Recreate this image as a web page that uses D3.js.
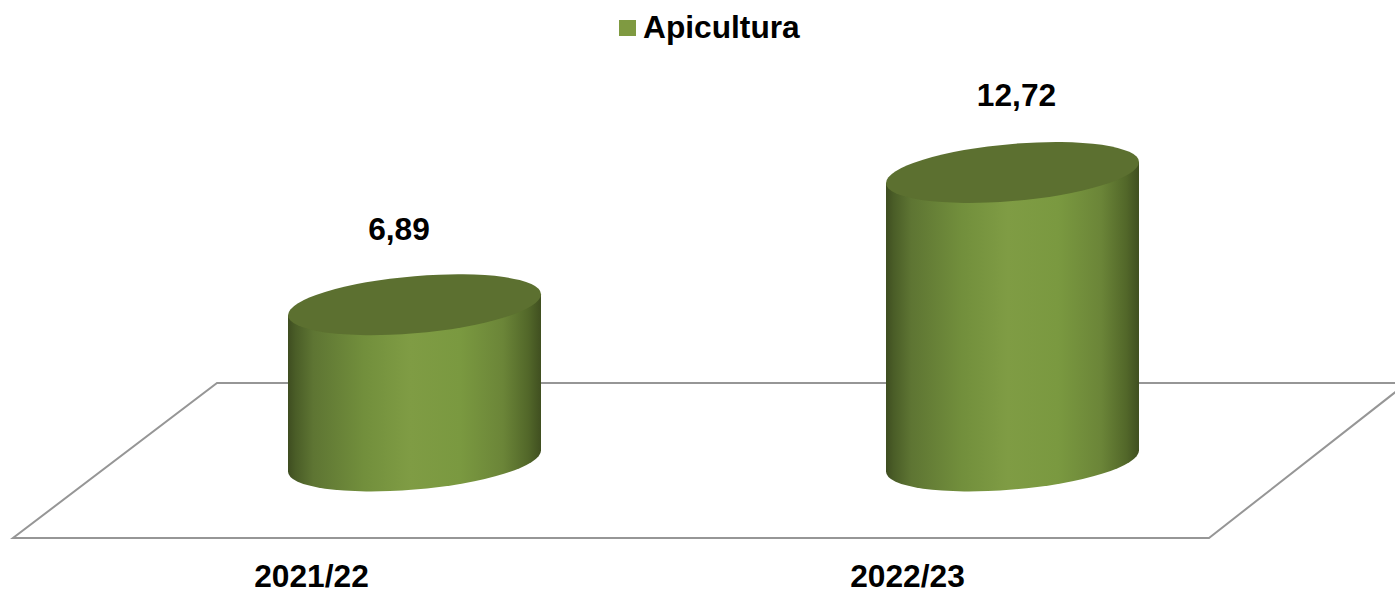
<!DOCTYPE html>
<html>
<head>
<meta charset="utf-8">
<script src="https://cdn.jsdelivr.net/npm/d3@7"></script>
<style>
  html, body { margin: 0; padding: 0; background: #fff; overflow: hidden; }
  text { font-family: "Liberation Sans", Arial, sans-serif; font-weight: bold; fill: #000; }
</style>
</head>
<body>
<script>
var categories = ["2021/22", "2022/23"];
var values = [6.89, 12.72];
var valueLabels = ["6,89", "12,72"];
var seriesName = "Apicultura";

//Width and height
var w = 1395;
var h = 589;

var svg = d3.select("body").append("svg").attr("width", w).attr("height", h)
  .style("display", "block");

//gradient across the cylinder
var stops = [
  [0, "#3e4d20"], [0.03, "#4a5d27"], [0.1, "#5e7533"], [0.3, "#728f3c"],
  [0.48, "#7f9c44"], [0.68, "#7a9940"], [0.85, "#6b8538"], [0.95, "#526729"], [1, "#404f20"]
];
var grad = svg.append("defs").append("linearGradient")
  .attr("id", "side").attr("x1", 0).attr("x2", 1).attr("y1", 0).attr("y2", 0);
grad.selectAll("stop").data(stops).enter().append("stop")
  .attr("offset", function(d) { return d[0]; })
  .attr("stop-color", function(d) { return d[1]; });

//the scales: cylinders stand mid floor, tick labels sit on the front edge
var x = d3.scalePoint().domain(categories).range([414.5, 1012.5]);
var xFront = d3.scalePoint().domain(categories).range([311, 907]);
var xLabel = d3.scalePoint().domain(categories).range([399, 1016.5]);
var y = d3.scaleLinear().domain([0, 12.72]).range([461, 172.5]);
var yLabel = d3.scaleLinear().domain([6.89, 12.72]).range([240, 106]);

//floor
var floor = d3.line();
svg.append("path")
  .attr("d", floor([[1395, 383], [217, 383], [13, 538], [1209, 538], [1407, 383]]))
  .attr("fill", "none").attr("stroke", "#969696").attr("stroke-width", 2);

//cylinders, drawn in a skewed space so the ellipses lean up to the right
var rx = 126.5, ry = 28.6, lean = -10.5;
var bars = svg.selectAll("g.bar").data(values).enter().append("g")
  .attr("class", "bar")
  .attr("transform", function(d, i) {
    return "matrix(1," + (lean / rx) + ",0,1," + x(categories[i]) + ",0)";
  });

bars.append("path")
  .attr("fill", "url(#side)")
  .attr("d", function(d) {
    var top = y(d), base = y(0);
    return "M" + (-rx) + "," + top + "L" + (-rx) + "," + base +
      "A" + rx + "," + ry + " 0 0 0 " + rx + "," + base +
      "L" + rx + "," + top + "Z";
  });

bars.append("ellipse")
  .attr("cx", 0).attr("cy", function(d) { return y(d); })
  .attr("rx", rx).attr("ry", ry)
  .attr("fill", "#5c7030");

//value labels
svg.selectAll("text.value").data(values).enter().append("text")
  .attr("class", "value")
  .attr("x", function(d, i) { return xLabel(categories[i]); })
  .attr("y", function(d) { return yLabel(d); })
  .attr("text-anchor", "middle")
  .style("font-size", "31.7px")
  .text(function(d, i) { return valueLabels[i]; });

//category axis
var axis = svg.append("g").attr("transform", "translate(0,587)")
  .call(d3.axisBottom(xFront).tickSize(0).tickPadding(0));
axis.select(".domain").remove();
axis.selectAll("text")
  .attr("y", 0).attr("dy", 0)
  .style("font-size", "31.7px").style("font-family", null);
axis.attr("font-family", null).attr("font-size", null);

//legend
var legend = svg.append("g");
legend.append("rect").attr("x", 619).attr("y", 20).attr("width", 17).attr("height", 16)
  .attr("fill", "#7f9a41");
legend.append("text").attr("x", 643).attr("y", 38)
  .style("font-size", "31.7px").text(seriesName);
</script>
</body>
</html>
